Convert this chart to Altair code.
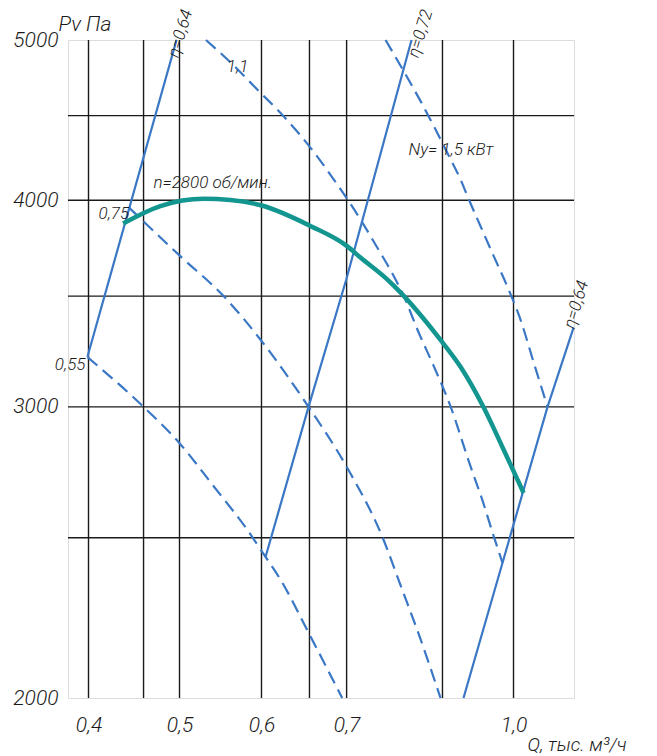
import altair as alt
import pandas as pd

# ---------------- data ----------------
# grid lines (Q in thousand m3/h, P in Pa)
grid_q = [0.4, 0.4504, 0.4867, 0.5808, 0.6441, 0.6978, 0.8580, 1.0]
grid_p = [2500, 3000, 3500, 4000, 4500]

# axis labels
xlab_q = [0.4, 0.4867, 0.5808, 0.6978, 1.0]
xlab_t = ["0,4", "0,5", "0,6", "0,7", "1,0"]
ylab_p = [2000, 3000, 4000, 5000]

# fan curve n = 2800 rpm
fan_q = [0.431, 0.467, 0.513, 0.543, 0.580, 0.646, 0.699, 0.719, 0.762,
         0.784, 0.854, 0.892, 0.937, 0.979, 1.022]
fan_p = [3872, 3967, 4008, 4002, 3972, 3858, 3751, 3693, 3581,
         3517, 3294, 3172, 3000, 2826, 2661]

# efficiency lines (solid)
eta064a_q = [0.3991, 0.4836]
eta064a_p = [3217, 5000]
eta072_q = [0.5859, 0.6428, 0.6972, 0.8026]
eta072_p = [2434, 3000, 3581, 5000]
eta064b_q = [0.8978, 1.0761, 1.1382]
eta064b_p = [2000, 3000, 3350]

# power lines (dashed)
n055_q = [0.3991, 0.4499, 0.4867, 0.5241, 0.5632, 0.5859, 0.6052, 0.6432, 0.6912]
n055_p = [3215, 3002, 2852, 2685, 2528, 2434, 2358, 2189, 2000]
n075_q = [0.4365, 0.4878, 0.5355, 0.5796, 0.6428, 0.6987, 0.7535, 0.7867, 0.8125, 0.8544]
n075_p = [3959, 3699, 3499, 3294, 3000, 2756, 2504, 2325, 2199, 2000]
n11_q = [0.5153, 0.5433, 0.5755, 0.6094, 0.6456, 0.6788, 0.7190, 0.7454, 0.7726,
         0.7894, 0.8154, 0.8422, 0.8730, 0.9115, 0.9348, 0.9585, 0.9766]
n11_p = [5000, 4846, 4667, 4495, 4303, 4117, 3894, 3745, 3598,
         3499, 3325, 3174, 3002, 2761, 2636, 2504, 2414]
n15_q = [0.7589, 0.7894, 0.8184, 0.8453, 0.8669, 0.8921, 0.9082, 0.9314, 0.9585,
         0.9866, 1.0152, 1.0448, 1.0761]
n15_p = [5000, 4786, 4592, 4414, 4273, 4117, 4004, 3858, 3699,
         3548, 3387, 3189, 3000]

# annotations
eta_txt = ["η=0,64", "η=0,72", "η=0,64"]
eta_q = [0.4878, 0.8184, 1.1456]
eta_p = [5045, 5045, 3459]
ann_txt = ["0,75", "1,1", "n=2800 об/мин.", "Ny= 1,5 кВт"]
ann_q = [0.4087, 0.5390, 0.4602, 0.7975]
ann_p = [3924, 4816, 4097, 4290]
n055_txt = ["0,55"]
n055_lq = [0.3974]
n055_lp = [3181]

# ---------------- styling ----------------
BLUE = "#3a77c4"
TEAL = "#12968f"
INK = "#1a1a1a"
FONT = "Roboto"
FW = 300

xs = alt.Scale(type="log", domain=[0.3827, 1.1393], nice=False, zero=False)
ys = alt.Scale(type="log", domain=[2000, 5000], nice=False, zero=False)


def series(name, q, p):
    return pd.DataFrame({"s": name, "q": q, "p": p, "i": range(len(q))})


dashed = pd.concat([series("0.55", n055_q, n055_p), series("0.75", n075_q, n075_p),
                    series("1.1", n11_q, n11_p), series("1.5", n15_q, n15_p)])
solid = pd.concat([series("a", eta064a_q, eta064a_p), series("b", eta072_q, eta072_p),
                   series("c", eta064b_q, eta064b_p)])
fan = series("fan", fan_q, fan_p)

expr = "''"
for v, t in reversed(list(zip(xlab_q, xlab_t))):
    expr = f"abs(datum.value - {v}) < 0.01 ? '{t}' : ({expr})"

base_axis_x = alt.Axis(values=xlab_q, labelExpr=expr, grid=False, ticks=False, domain=False,
                       labelFont=FONT, labelFontSize=21, labelFontStyle="italic",
                       labelFontWeight=FW, labelColor=INK,
                       labelPadding=16, labelFlush=False, labelOverlap=False, labelBound=False,
                       title="Q, тыс. м³/ч", titleFont=FONT, titleFontSize=19,
                       titleFontStyle="italic", titleFontWeight=FW, titleColor=INK,
                       titleAlign="left", titleBaseline="alphabetic", titleX=459, titleY=52,
                       titleAnchor="start")
base_axis_y = alt.Axis(values=ylab_p, format="d", grid=False, ticks=False, domain=False,
                       labelFont=FONT, labelFontSize=21, labelFontStyle="italic",
                       labelFontWeight=FW, labelColor=INK,
                       labelPadding=10, labelFlush=False, labelOverlap=False, labelBound=False,
                       title="Pv Па", titleFont=FONT, titleFontSize=21, titleFontStyle="italic",
                       titleFontWeight=FW, titleColor=INK, titleAngle=0, titleAlign="left",
                       titleBaseline="alphabetic", titleX=-10, titleY=-10, titleAnchor="start")

vgrid = alt.Chart(pd.DataFrame({"q": grid_q})).mark_rule(color=INK, strokeWidth=1.4).encode(
    x=alt.X("q:Q", scale=xs, axis=base_axis_x))
hgrid = alt.Chart(pd.DataFrame({"p": grid_p})).mark_rule(color=INK, strokeWidth=1.4).encode(
    y=alt.Y("p:Q", scale=ys, axis=base_axis_y))

dash_lines = alt.Chart(dashed).mark_line(color=BLUE, strokeWidth=2.2, strokeDash=[13, 7],
                                         interpolate="monotone").encode(
    x=alt.X("q:Q", scale=xs), y=alt.Y("p:Q", scale=ys), detail="s:N", order="i:Q")
solid_lines = alt.Chart(solid).mark_line(color=BLUE, strokeWidth=2.2).encode(
    x=alt.X("q:Q", scale=xs), y=alt.Y("p:Q", scale=ys), detail="s:N", order="i:Q")
fan_line = alt.Chart(fan).mark_line(color=TEAL, strokeWidth=4.5, interpolate="monotone").encode(
    x=alt.X("q:Q", scale=xs), y=alt.Y("p:Q", scale=ys), order="i:Q")

eta_labels = alt.Chart(pd.DataFrame({"t": eta_txt, "q": eta_q, "p": eta_p})).mark_text(
    font=FONT, fontSize=17, fontStyle="italic", fontWeight=FW, color=INK, angle=287,
    align="center", baseline="middle").encode(
    x=alt.X("q:Q", scale=xs), y=alt.Y("p:Q", scale=ys), text="t:N")
ann_labels = alt.Chart(pd.DataFrame({"t": ann_txt, "q": ann_q, "p": ann_p})).mark_text(
    font=FONT, fontSize=17, fontStyle="italic", fontWeight=FW, color=INK, align="left",
    baseline="middle").encode(x=alt.X("q:Q", scale=xs), y=alt.Y("p:Q", scale=ys), text="t:N")
l055 = alt.Chart(pd.DataFrame({"t": n055_txt, "q": n055_lq, "p": n055_lp})).mark_text(
    font=FONT, fontSize=17, fontStyle="italic", fontWeight=FW, color=INK, align="right",
    baseline="middle").encode(x=alt.X("q:Q", scale=xs), y=alt.Y("p:Q", scale=ys), text="t:N")

chart = alt.layer(vgrid, hgrid, dash_lines, solid_lines, fan_line, eta_labels, ann_labels, l055).properties(
    width=506, height=658,
    autosize=alt.AutoSizeParams(type="none"),
    padding={"left": 60, "top": 32, "right": 75, "bottom": 60},
).configure_view(stroke=BLUE, strokeWidth=2.6).configure(background="white")

chart.save("out.html", embed_options={"renderer": "svg", "actions": False})
